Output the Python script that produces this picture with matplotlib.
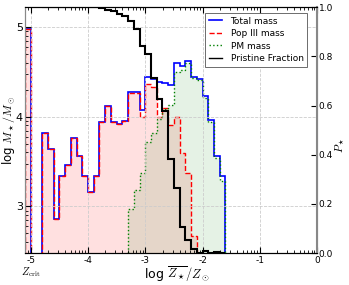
import numpy as np
import matplotlib
matplotlib.use("Agg")
import matplotlib.pyplot as plt

plt.rcParams['mathtext.fontset'] = 'cm'
plt.rcParams['axes.unicode_minus'] = False

# bin edges in log Z/Zsun, 0.1 dex wide
edges = np.round(np.arange(-5.1, -1.55, 0.1), 2)

# log stellar mass per bin (0 = empty bin)
total_mass = [4.98, 0, 0, 3.82, 3.64, 2.86, 3.34, 3.46, 3.76, 3.56, 3.34, 3.16,
              3.34, 3.94, 4.12, 3.94, 3.92, 3.95, 4.27, 4.27, 4.07, 4.44, 4.42,
              4.39, 4.37, 4.35, 4.60, 4.56, 4.62, 4.44, 4.42, 4.23, 3.96, 3.56, 3.34]
pop3_mass = [4.98, 0, 0, 3.82, 3.64, 2.86, 3.34, 3.46, 3.76, 3.56, 3.34, 3.16,
             3.34, 3.94, 4.12, 3.94, 3.92, 3.95, 4.26, 4.26, 4.00, 4.36, 4.33,
             4.00, 4.10, 3.91, 4.00, 3.60, 3.37, 2.67, 0, 0, 0, 0, 0]
pm_mass = [0, 0, 0, 0, 0, 0, 0, 0, 0, 0, 0, 0,
           0, 0, 0, 0, 0, 0, 2.97, 3.18, 3.37, 3.72, 3.82,
           3.97, 4.09, 4.13, 4.50, 4.52, 4.60, 4.43, 4.41, 4.21, 3.94, 3.54, 3.28]

# pristine fraction, bins from -4.8 to -1.6
pf_edges = edges[3:]
pristine = [1.0, 1.0, 1.0, 1.0, 1.0, 1.0, 1.0, 1.0, 1.0, 1.0, 0.997, 0.99,
            0.985, 0.972, 0.965, 0.945, 0.91, 0.842, 0.808, 0.712, 0.626, 0.579,
            0.383, 0.265, 0.107, 0.054, 0.017, 0.002, 0.008, 0.002, 0.006, 0.0]

fig = plt.figure(figsize=(3.49, 2.85), dpi=100)
ax = fig.add_axes([0.0716, 0.112, 0.837, 0.863])
ax2 = ax.twinx()

ax.stairs(pop3_mass, edges, baseline=0, fill=True, color='r', alpha=0.12, lw=0)
ax.stairs(pm_mass, edges, baseline=0, fill=True, color='g', alpha=0.1, lw=0)
l1 = ax.stairs(total_mass, edges, color='b', lw=1.2, label='Total mass')
l2 = ax.stairs(pop3_mass, edges, color='r', lw=1.0, ls='--', label='Pop III mass')
l3 = ax.stairs(pm_mass, edges, color='g', lw=1.0, ls=':', label='PM mass')
l4, = ax2.plot([], [], color='k', lw=1.0, label='Pristine Fraction')
ax2.stairs(pristine, pf_edges, baseline=None, color='k', lw=1.5)

ax.set_xlim(-5.1, 0)
ax.set_ylim(2.48, 5.22)
ax2.set_ylim(0, 1)

ax.set_xticks([-5, -4, -3, -2, -1, 0])
ax.set_xticklabels(['-5', '-4', '-3', '-2', '-1', '0'])
ax.set_yticks([3, 4, 5])
xminor = [n + np.log10(k) for n in range(-6, 0) for k in range(2, 10)]
yminor = [n + np.log10(k) for n in range(2, 6) for k in range(2, 10)]
ax.set_xticks([v for v in xminor if -5.1 < v < 0], minor=True)
ax.set_yticks([v for v in yminor if 2.48 < v < 5.22], minor=True)
ax2.set_yticks([0, 0.2, 0.4, 0.6, 0.8, 1.0])

ax.tick_params(which='both', direction='in', top=True)
ax.tick_params(which='major', length=4)
ax.tick_params(which='minor', length=2)
ax.tick_params(axis='x', labelsize=6.5, pad=2)
ax.tick_params(axis='y', labelsize=8, pad=1.5)
ax2.tick_params(direction='in', length=4, labelsize=6.5, pad=1)

ax.grid(True, which='major', color='#cccccc', ls='--', lw=0.6)

for s in ['left', 'right']:
    ax.spines[s].set_color('#888888')
    ax2.spines[s].set_color('#888888')
ax2.spines['right'].set_linewidth(1.5)

ax.set_xlabel(r'log $\overline{Z_\star}/Z_\odot$', fontsize=9)
ax.xaxis.set_label_coords(0.52, -0.047)
ax.xaxis.label.set_va('top')
ax.set_ylabel(r'log $M_\star/M_\odot$', fontsize=8.5)
ax.yaxis.set_label_coords(-0.029, 0.5)
ax2.set_ylabel(r'$P_\star$', fontsize=8)
ax2.yaxis.set_label_coords(1.055, 0.44)

ax.text(-5.0, -0.05, r'$Z_{\rm crit}$', transform=ax.get_xaxis_transform(),
        ha='center', va='top', fontsize=7.5)

leg = ax2.legend([l1, l2, l3, l4],
                 ['Total mass', 'Pop III mass', 'PM mass', 'Pristine Fraction'],
                 loc='upper right', bbox_to_anchor=(0.966, 0.976), borderaxespad=0,
                 fontsize=6.5, fancybox=False, framealpha=1,
                 edgecolor='#555555', handlelength=1.5, handletextpad=0.9,
                 labelspacing=0.38, borderpad=0.4)
leg.get_frame().set_linewidth(0.6)

fig.savefig('out.png', dpi=100)
